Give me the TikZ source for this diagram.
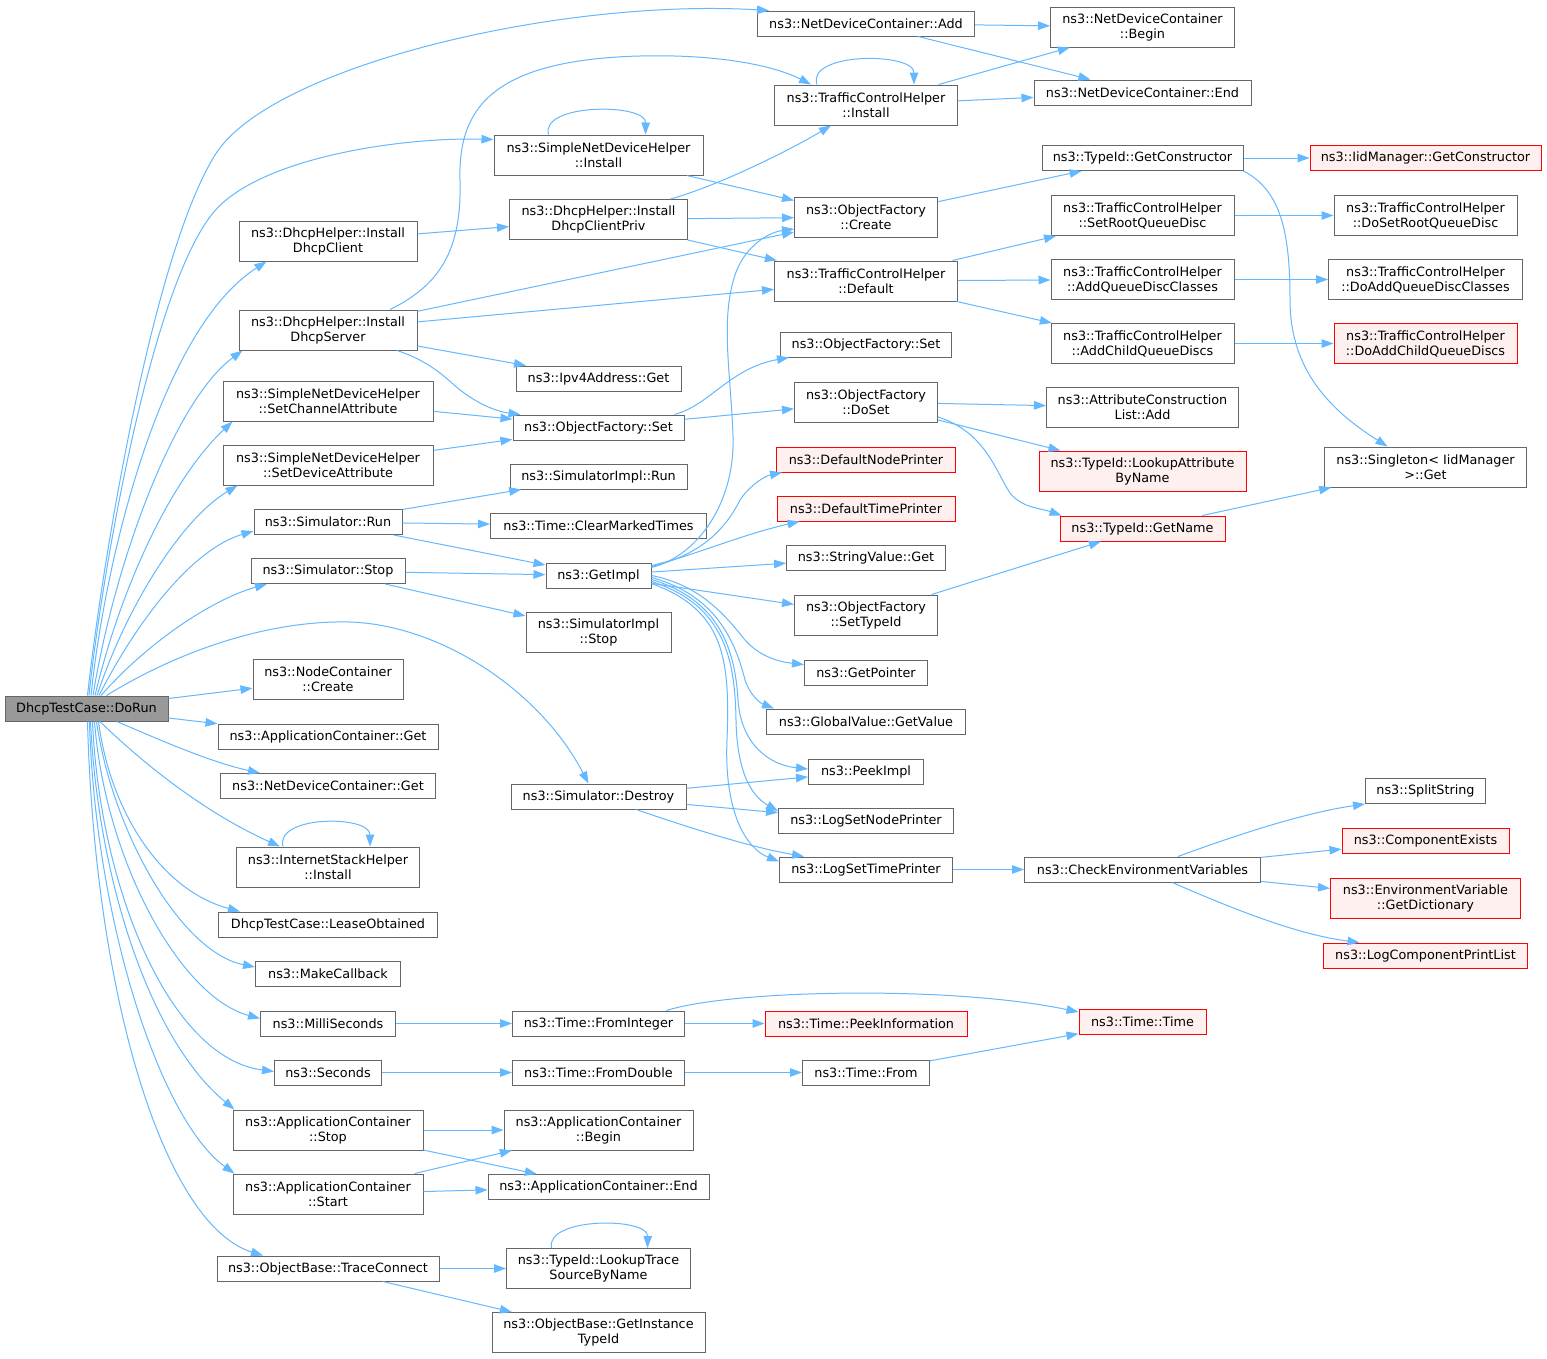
\documentclass[tikz,border=0pt]{standalone}
\usepackage{fontspec}
\setmainfont{DejaVu Sans}
\usetikzlibrary{arrows.meta}
\definecolor{edgeblue}{HTML}{63B8FF}
\definecolor{boxgray}{HTML}{666666}
\definecolor{redfill}{HTML}{FFF0F0}
\definecolor{rootfill}{HTML}{999999}
\newcommand\dxfont{\fontsize{12.8pt}{15pt}\selectfont}
\begin{document}
\begin{tikzpicture}[x=1pt,y=-1pt,
  bx/.style={draw=boxgray, fill=white, line width=1pt, inner sep=0pt, align=center, font=\dxfont, text=black},
  rd/.style={bx, draw=red, fill=redfill},
  root/.style={bx, fill=rootfill},
  one/.style={minimum height=25pt},
  two/.style={minimum height=40pt},
  e/.style={draw=edgeblue, line width=1pt, -{Triangle[length=12pt,width=8.5pt]}}]
\fill[white] (0,0) rectangle (1547,1358);
\useasboundingbox (0,0) rectangle (1547,1358);

% root
\node[root,one,minimum width=163pt] (dorun) at (86.5,708.5) {DhcpTestCase::DoRun};

% column 1
\node[bx,two,minimum width=178pt] (dhcpcl) at (328,241) {ns3::DhcpHelper::Install\\DhcpClient};
\node[bx,two,minimum width=178pt] (dhcpsrv) at (328,330) {ns3::DhcpHelper::Install\\DhcpServer};
\node[bx,two,minimum width=210pt] (setchan) at (328,401) {ns3::SimpleNetDeviceHelper\\::SetChannelAttribute};
\node[bx,two,minimum width=210pt] (setdev) at (328,465) {ns3::SimpleNetDeviceHelper\\::SetDeviceAttribute};
\node[bx,one,minimum width=148pt] (simrun) at (328,522) {ns3::Simulator::Run};
\node[bx,one,minimum width=154pt] (simstop) at (328,571) {ns3::Simulator::Stop};
\node[bx,two,minimum width=150pt] (nccreate) at (328,679) {ns3::NodeContainer\\::Create};
\node[bx,one,minimum width=220pt] (acget) at (328,736.5) {ns3::ApplicationContainer::Get};
\node[bx,one,minimum width=215pt] (ndcget) at (328,786) {ns3::NetDeviceContainer::Get};
\node[bx,two,minimum width=183pt] (ishinst) at (328,867) {ns3::InternetStackHelper\\::Install};
\node[bx,one,minimum width=219pt] (lease) at (328,924.5) {DhcpTestCase::LeaseObtained};
\node[bx,one,minimum width=145pt] (mkcb) at (328,974) {ns3::MakeCallback};
\node[bx,one,minimum width=135pt] (milli) at (328,1023.5) {ns3::MilliSeconds};
\node[bx,one,minimum width=107pt] (secs) at (328,1072.5) {ns3::Seconds};
\node[bx,two,minimum width=190pt] (acstop) at (328,1130) {ns3::ApplicationContainer\\::Stop};
\node[bx,two,minimum width=190pt] (acstart) at (328,1194) {ns3::ApplicationContainer\\::Start};
\node[bx,one,minimum width=222pt] (trace) at (328,1268.5) {ns3::ObjectBase::TraceConnect};

% column 2
\node[bx,two,minimum width=209pt] (sndhinst) at (598.5,155) {ns3::SimpleNetDeviceHelper\\::Install};
\node[bx,two,minimum width=178pt] (dhcppriv) at (598.5,219.5) {ns3::DhcpHelper::Install\\DhcpClientPriv};
\node[bx,one,minimum width=165pt] (ipv4) at (598.5,378.5) {ns3::Ipv4Address::Get};
\node[bx,one,minimum width=171pt] (ofset2) at (598.5,427.5) {ns3::ObjectFactory::Set};
\node[bx,one,minimum width=177pt] (simimplrun) at (598.5,476.5) {ns3::SimulatorImpl::Run};
\node[bx,one,minimum width=216pt] (clear) at (598.5,525.5) {ns3::Time::ClearMarkedTimes};
\node[bx,one,minimum width=105pt] (getimpl) at (598.5,575.5) {ns3::GetImpl};
\node[bx,two,minimum width=145pt] (simimplstop) at (598.5,632.5) {ns3::SimulatorImpl\\::Stop};
\node[bx,one,minimum width=175pt] (destroy) at (598.5,796.5) {ns3::Simulator::Destroy};
\node[bx,one,minimum width=172pt] (fromint) at (598.5,1023.5) {ns3::Time::FromInteger};
\node[bx,one,minimum width=172pt] (fromdbl) at (598.5,1072.5) {ns3::Time::FromDouble};
\node[bx,two,minimum width=189pt] (acbegin) at (598.5,1130) {ns3::ApplicationContainer\\::Begin};
\node[bx,one,minimum width=221pt] (acend) at (598.5,1187) {ns3::ApplicationContainer::End};
\node[bx,two,minimum width=184pt] (lookuptrace) at (598.5,1268.5) {ns3::TypeId::LookupTrace\\SourceByName};
\node[bx,two,minimum width=213pt] (getinst) at (598.5,1332.5) {ns3::ObjectBase::GetInstance\\TypeId};

% column 3
\node[bx,one,minimum width=217pt] (ndcadd) at (866,23.5) {ns3::NetDeviceContainer::Add};
\node[bx,two,minimum width=183pt] (tchinst) at (866,105) {ns3::TrafficControlHelper\\::Install};
\node[bx,two,minimum width=143pt] (ofcreate) at (866,217) {ns3::ObjectFactory\\::Create};
\node[bx,two,minimum width=183pt] (tchdef) at (866,281) {ns3::TrafficControlHelper\\::Default};
\node[bx,one,minimum width=171pt] (ofset3) at (866,344.5) {ns3::ObjectFactory::Set};
\node[bx,two,minimum width=143pt] (ofdoset) at (866,402) {ns3::ObjectFactory\\::DoSet};
\node[rd,one,minimum width=179pt] (defnode) at (866,459.5) {ns3::DefaultNodePrinter};
\node[rd,one,minimum width=178pt] (deftime) at (866,508.5) {ns3::DefaultTimePrinter};
\node[bx,one,minimum width=159pt] (strget) at (866,558) {ns3::StringValue::Get};
\node[bx,two,minimum width=143pt] (ofsettid) at (866,615) {ns3::ObjectFactory\\::SetTypeId};
\node[bx,one,minimum width=123pt] (getptr) at (866,672.5) {ns3::GetPointer};
\node[bx,one,minimum width=199pt] (gvget) at (866,721.5) {ns3::GlobalValue::GetValue};
\node[bx,one,minimum width=115pt] (peek) at (866,771.5) {ns3::PeekImpl};
\node[bx,one,minimum width=175pt] (lognode) at (866,820.5) {ns3::LogSetNodePrinter};
\node[bx,one,minimum width=173pt] (logtime) at (866,869.5) {ns3::LogSetTimePrinter};
\node[rd,one,minimum width=202pt] (peekinfo) at (866,1023.5) {ns3::Time::PeekInformation};
\node[bx,one,minimum width=127pt] (tfrom) at (866,1072.5) {ns3::Time::From};

% column 4
\node[bx,two,minimum width=184pt] (ndcbegin) at (1142.5,27) {ns3::NetDeviceContainer\\::Begin};
\node[bx,one,minimum width=217pt] (ndcend) at (1142.5,92.5) {ns3::NetDeviceContainer::End};
\node[bx,one,minimum width=201pt] (getctor) at (1142.5,158) {ns3::TypeId::GetConstructor};
\node[bx,two,minimum width=183pt] (setroot) at (1142.5,215.5) {ns3::TrafficControlHelper\\::SetRootQueueDisc};
\node[bx,two,minimum width=183pt] (addclasses) at (1142.5,279.5) {ns3::TrafficControlHelper\\::AddQueueDiscClasses};
\node[bx,two,minimum width=183pt] (addchild) at (1142.5,343.5) {ns3::TrafficControlHelper\\::AddChildQueueDiscs};
\node[bx,two,minimum width=192pt] (attradd) at (1142.5,407.5) {ns3::AttributeConstruction\\List::Add};
\node[rd,two,minimum width=207pt] (lookupattr) at (1142.5,471) {ns3::TypeId::LookupAttribute\\ByName};
\node[rd,one,minimum width=165pt] (getname) at (1142.5,528.5) {ns3::TypeId::GetName};
\node[bx,one,minimum width=236pt] (checkenv) at (1142.5,869.5) {ns3::CheckEnvironmentVariables};
\node[rd,one,minimum width=127pt] (ttime) at (1142.5,1022) {ns3::Time::Time};

% column 5
\node[rd,one,minimum width=231pt] (iidctor) at (1425.5,158) {ns3::IidManager::GetConstructor};
\node[bx,two,minimum width=183pt] (dosetroot) at (1425.5,215.5) {ns3::TrafficControlHelper\\::DoSetRootQueueDisc};
\node[bx,two,minimum width=194pt] (doaddclasses) at (1425.5,279.5) {ns3::TrafficControlHelper\\::DoAddQueueDiscClasses};
\node[rd,two,minimum width=183pt] (doaddchild) at (1425.5,343.5) {ns3::TrafficControlHelper\\::DoAddChildQueueDiscs};
\node[bx,two,minimum width=202pt] (singleton) at (1425.5,467) {ns3::Singleton< IidManager\\>::Get};
\node[bx,one,minimum width=120pt] (split) at (1425.5,791) {ns3::SplitString};
\node[rd,one,minimum width=167pt] (compex) at (1425.5,840.5) {ns3::ComponentExists};
\node[rd,two,minimum width=190pt] (getdict) at (1425.5,898) {ns3::EnvironmentVariable\\::GetDictionary};
\node[rd,one,minimum width=204pt] (logcomp) at (1425.5,955.5) {ns3::LogComponentPrintList};

% ---- edges from DoRun (upper fan)
\draw[e] ([xshift=1pt]dorun.north) .. controls (100,580) and (150,260) .. (215,155) .. controls (270,66) and (560,-2) .. ([xshift=12pt]ndcadd.north west);
\draw[e] ([xshift=2.5pt]dorun.north) .. controls (101,580) and (150,290) .. (213,213) .. controls (258,158) and (400,137) .. ([yshift=-5pt]sndhinst.north west);
\draw[e] ([xshift=4.5pt]dorun.north) .. controls (105,560) and (160,330) .. ([xshift=28pt]dhcpcl.south west);
\draw[e] ([xshift=6.5pt]dorun.north) .. controls (115,560) and (175,400) .. ([xshift=4pt]dhcpsrv.south west);
\draw[e] ([xshift=8.5pt]dorun.north) .. controls (120,590) and (170,480) .. ([xshift=10pt]setchan.south west);
\draw[e] ([xshift=10.5pt]dorun.north) .. controls (125,610) and (180,520) .. ([xshift=15pt]setdev.south west);
\draw[e] ([xshift=12.5pt]dorun.north) .. controls (135,625) and (190,550) .. ([yshift=4pt]simrun.south west);
\draw[e] ([xshift=14.5pt]dorun.north) .. controls (145,645) and (210,600) .. ([xshift=-61pt]simstop.south);
\draw[e] ([xshift=20pt]dorun.north) .. controls (180,650) and (270,620) .. (350,622) .. controls (440,625) and (540,690) .. ([xshift=-10pt]destroy.north);
\draw[e] (dorun) -- (nccreate);
\draw[e] (dorun) -- (acget);
\draw[e] (dorun) .. controls (160,740) and (210,762) .. ([xshift=-68pt]ndcget.north);
\draw[e] (dorun) .. controls (150,770) and (210,815) .. ([xshift=-48pt]ishinst.north);
% ---- lower fan
\draw[e] ([xshift=12pt]dorun.south) .. controls (110,810) and (160,890) .. ([xshift=22pt]lease.north west);
\draw[e] ([xshift=10pt]dorun.south) .. controls (112,830) and (180,952) .. ([yshift=7pt]mkcb.west);
\draw[e] ([xshift=8pt]dorun.south) .. controls (105,860) and (180,997) .. ([yshift=5pt]milli.west);
\draw[e] ([xshift=6pt]dorun.south) .. controls (100,890) and (170,1058) .. ([yshift=1pt]secs.west);
\draw[e] ([xshift=4pt]dorun.south) .. controls (98,880) and (150,1040) .. ([xshift=2pt]acstop.north west);
\draw[e] ([xshift=3pt]dorun.south) .. controls (95,920) and (160,1120) .. ([xshift=2pt]acstart.north west);
\draw[e] ([xshift=1pt]dorun.south) .. controls (95,1000) and (165,1225) .. ([xshift=-65pt]trace.north);

% ---- self loops
\draw[e] ([xshift=-50pt]sndhinst.north) .. controls (540,103) and (646,103) .. ([xshift=47pt]sndhinst.north);
\draw[e] ([xshift=-49pt]tchinst.north) .. controls (806,52) and (914,52) .. ([xshift=48pt]tchinst.north);
\draw[e] ([xshift=-45pt]ishinst.north) .. controls (275,815) and (370,815) .. ([xshift=42pt]ishinst.north);
\draw[e] ([xshift=-47pt]lookuptrace.north) .. controls (545,1217) and (648,1217) .. ([xshift=49pt]lookuptrace.north);

% ---- column 1 -> column 2/3
\draw[e] (sndhinst) -- (ofcreate);
\draw[e] (dhcpcl) -- (dhcppriv);
\draw[e] (dhcppriv) .. controls (720,185) and (790,150) .. ([xshift=-35pt]tchinst.south);
\draw[e] (dhcppriv) -- (ofcreate);
\draw[e] (dhcppriv) -- (tchdef);
\draw[e] ([xshift=62pt]dhcpsrv.north) .. controls (440,285) and (462,250) .. (460,180) .. controls (458,110) and (490,60) .. (640,56) .. controls (720,54) and (775,66) .. ([xshift=-55pt]tchinst.north);
\draw[e] (dhcpsrv) -- (ofcreate);
\draw[e] (dhcpsrv) -- (tchdef);
\draw[e] (dhcpsrv) -- (ipv4);
\draw[e] ([xshift=69pt]dhcpsrv.south) .. controls (440,365) and (450,385) .. (470,397) .. controls (485,407) and (500,412) .. ([xshift=8pt]ofset2.north west);
\draw[e] (setchan) -- (ofset2);
\draw[e] (setdev) -- (ofset2);
\draw[e] (simrun) -- (simimplrun);
\draw[e] (simrun) -- (clear);
\draw[e] (simrun) -- (getimpl);
\draw[e] (simstop) -- (getimpl);
\draw[e] (simstop) -- (simimplstop);
\draw[e] (destroy) -- (peek);
\draw[e] (destroy) -- (lognode);
\draw[e] (destroy) .. controls (690,828) and (750,847) .. ([xshift=-62pt]logtime.north);
\draw[e] (milli) -- (fromint);
\draw[e] (secs) -- (fromdbl);
\draw[e] (acstop) -- (acbegin);
\draw[e] (acstop) -- (acend);
\draw[e] (acstart) -- (acbegin);
\draw[e] (acstart) -- (acend);
\draw[e] (trace) -- (lookuptrace);
\draw[e] (trace) -- (getinst);

% ---- GetImpl fan
\draw[e] ([yshift=8pt]getimpl.east) .. controls (700,555) and (735,500) .. (733,437) .. controls (731,374) and (720,320) .. (735,275) .. controls (745,245) and (770,232) .. ([yshift=-12pt]ofcreate.west);
\draw[e] ([yshift=9pt]getimpl.east) .. controls (700,555) and (725,530) .. (740,500) .. controls (750,485) and (765,476) .. ([xshift=6pt]defnode.south west);
\draw[e] ([yshift=10pt]getimpl.east) .. controls (690,557) and (740,535) .. ([xshift=23pt]deftime.south west);
\draw[e] (getimpl) -- (strget);
\draw[e] (getimpl) -- (ofsettid);
\draw[e] (getimpl.east) .. controls (700,585) and (725,615) .. (745,640) .. controls (760,657) and (780,662) .. ([yshift=8pt]getptr.west);
\draw[e] ([yshift=-2pt]getimpl.east) .. controls (715,595) and (735,640) .. (745,680) .. controls (750,695) and (760,703) .. ([xshift=8pt]gvget.north west);
\draw[e] ([yshift=-4pt]getimpl.east) .. controls (720,600) and (735,650) .. (738,700) .. controls (741,745) and (770,765) .. ([yshift=2.5pt]peek.west);
\draw[e] ([yshift=-6pt]getimpl.east) .. controls (725,605) and (735,660) .. (736,720) .. controls (737,770) and (750,795) .. ([yshift=9.5pt]lognode.west);
\draw[e] ([yshift=-8pt]getimpl.east) .. controls (725,610) and (730,660) .. (727,740) .. controls (724,810) and (745,848) .. ([yshift=8pt]logtime.west);

% ---- ObjectFactory::Set
\draw[e] ([xshift=-10pt]ofset2.north east) .. controls (710,405) and (730,368) .. ([xshift=9pt]ofset3.south west);
\draw[e] (ofset2) -- (ofdoset);

% ---- column 3 -> column 4
\draw[e] (ndcadd) -- (ndcbegin);
\draw[e] (ndcadd) -- (ndcend);
\draw[e] (tchinst) -- (ndcbegin);
\draw[e] (tchinst) -- (ndcend);
\draw[e] (ofcreate) -- (getctor);
\draw[e] (tchdef) -- (setroot);
\draw[e] (tchdef) -- (addclasses);
\draw[e] (tchdef) -- (addchild);
\draw[e] (ofdoset) -- (attradd);
\draw[e] (ofdoset) -- (lookupattr);
\draw[e] ([yshift=-15pt]ofdoset.east) .. controls (985,432) and (995,470) .. (1010,493) .. controls (1022,508) and (1040,508) .. ([xshift=2pt]getname.north west);
\draw[e] (ofsettid) -- (getname);
\draw[e] (logtime) -- (checkenv);
\draw[e] (fromint) -- (peekinfo);
\draw[e] ([xshift=68pt]fromint.north) .. controls (730,990) and (950,985) .. ([yshift=10pt]ttime.west);
\draw[e] (fromdbl) -- (tfrom);
\draw[e] (tfrom) -- (ttime);

% ---- column 4 -> column 5
\draw[e] (getctor) -- (iidctor);
\draw[e] (getctor.south east) .. controls (1280,190) and (1290,230) .. (1290,300) .. controls (1290,370) and (1330,410) .. ([xshift=-38pt]singleton.north);
\draw[e] (getname) -- (singleton);
\draw[e] (setroot) -- (dosetroot);
\draw[e] (addclasses) -- (doaddclasses);
\draw[e] (addchild) -- (doaddchild);
\draw[e] (checkenv) .. controls (1250,830) and (1310,812) .. (split.south west);
\draw[e] (checkenv) -- (compex);
\draw[e] (checkenv) -- (getdict);
\draw[e] (checkenv) .. controls (1240,912) and (1300,935) .. ([xshift=-66pt]logcomp.north);
\end{tikzpicture}
\end{document}
